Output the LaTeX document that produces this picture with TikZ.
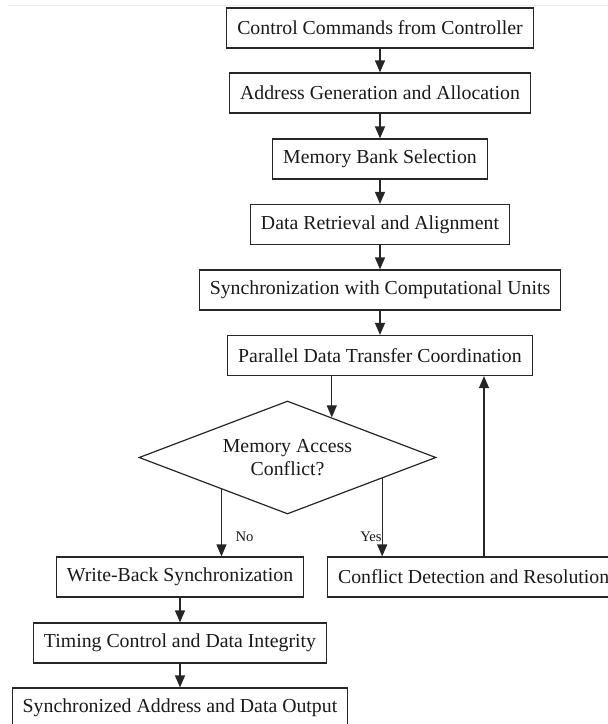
\documentclass[tikz,border=0pt]{standalone}
\usepackage{fontspec}
\setmainfont{Liberation Serif}
\usetikzlibrary{arrows.meta,shapes.geometric,calc}
\begin{document}
\begin{tikzpicture}[x=1pt,y=-1pt,
  line width=1.2pt,
  ink/.style={draw=black!85},
  procbox/.style={ink,rectangle,inner xsep=10.5pt,inner ysep=0pt,minimum height=40pt,
    font=\fontsize{19.8}{23}\selectfont,text=black!90},
  decision/.style={ink,diamond,inner sep=0pt,minimum width=297pt,minimum height=113pt,
    aspect=2.63,font=\fontsize{19.8}{23}\selectfont,text=black!90,align=center},
  arr/.style={ink,-{Triangle[length=12pt,width=10pt]}},
  lbl/.style={font=\fontsize{14.7}{17}\selectfont,text=black!90,inner sep=0pt}]
\useasboundingbox (0,0) rectangle (608,724);
\clip (0,0) rectangle (608,724);
% faint frame line along the top
\draw[line width=0.8pt,black!7] (8,5) -- (608,5);

% main column
\node[procbox] (p1) at (380,28) {Control Commands from Controller};
\node[procbox] (p2) at (380,93) {Address Generation and Allocation};
\node[procbox] (p3) at (380,159) {Memory Bank Selection};
\node[procbox] (p4) at (380,224.5) {Data Retrieval and Alignment};
\node[procbox] (p5) at (380,290) {Synchronization with Computational Units};
\node[procbox] (p6) at (380,355.5) {Parallel Data Transfer Coordination};

% decision
\node[decision] (dia) at (287.5,457.5) {Memory Access\\Conflict?};

% branches
\node[procbox] (wb) at (180,577) {Write-Back Synchronization};
\node[procbox,anchor=west] (cd) at (327,577) {Conflict Detection and Resolution};
\node[procbox] (tc) at (180,643) {Timing Control and Data Integrity};
\node[procbox] (so) at (180,708) {Synchronized Address and Data Output};

% points on the diamond border where connectors meet it
\coordinate (din) at ($(dia.north)!0.297!(dia.east)$);
\coordinate (dno) at ($(dia.west)!0.557!(dia.south)$);
\coordinate (dyes) at ($(dia.south)!0.635!(dia.east)$);
\coordinate (loopx) at (484,0);

% connectors
\draw[arr] (p1) -- (p2);
\draw[arr] (p2) -- (p3);
\draw[arr] (p3) -- (p4);
\draw[arr] (p4) -- (p5);
\draw[arr] (p5) -- (p6);
\draw[arr] (p6.south -| din) -- (din);
\draw[arr] (dno) -- (dno |- wb.north);
\draw[arr] (dyes) -- (dyes |- cd.north);
\draw[arr] (cd.north -| loopx) -- (p6.south -| loopx);
\draw[arr] (wb) -- (tc);
\draw[arr] (tc) -- (so);

% branch labels
\node[lbl,anchor=west] (lno) at (235,537) {No};
\node[lbl] (lyes) at (371,537) {Yes};
\end{tikzpicture}
\end{document}
